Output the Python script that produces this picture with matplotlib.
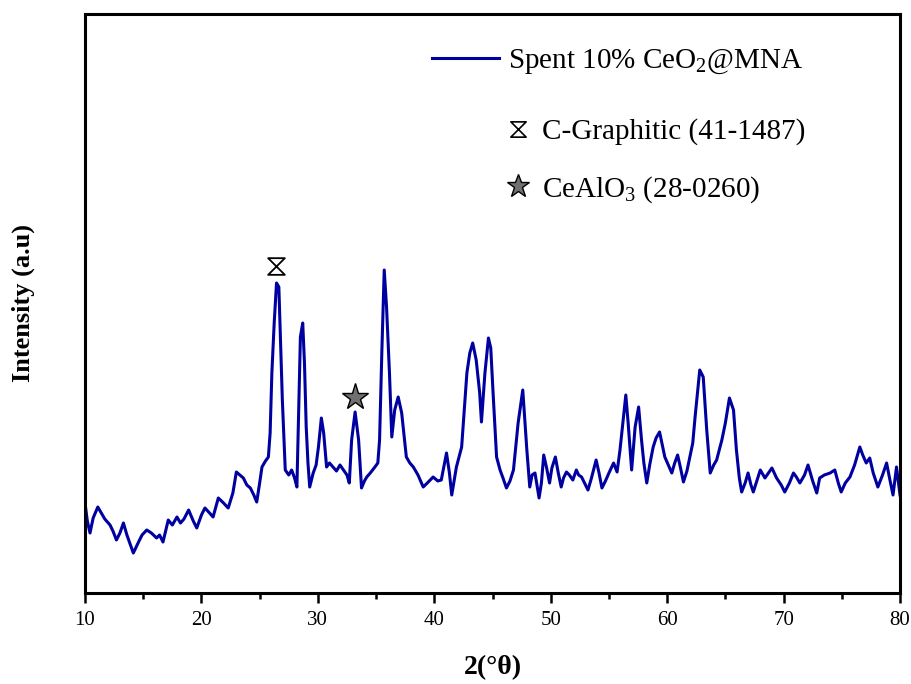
import numpy as np
import matplotlib.pyplot as plt
from matplotlib.path import Path
from matplotlib.lines import Line2D

plt.rcParams['font.family'] = ['Liberation Serif', 'DejaVu Serif']
plt.rcParams['mathtext.fontset'] = 'custom'
plt.rcParams['mathtext.rm'] = 'Liberation Serif'
plt.rcParams['mathtext.it'] = 'Liberation Serif:italic'
plt.rcParams['mathtext.bf'] = 'Liberation Serif:bold'

# XRD pattern (2theta, intensity a.u.)
two_theta = [10.0, 10.2, 10.43, 10.7, 11.1, 11.4, 11.7, 12.15, 12.4, 12.7, 13.0, 13.3, 13.6,
             13.9, 14.15, 14.6, 14.9, 15.3, 15.7, 16.15, 16.4, 16.7, 17.15, 17.5, 17.9, 18.2,
             18.5, 18.9, 19.3, 19.6, 20.0, 20.3, 20.7, 21.0, 21.45, 21.9, 22.3, 22.7, 23.0,
             23.3, 23.6, 23.9, 24.2, 24.5, 24.75, 25.0, 25.2, 25.5, 25.75, 25.9, 26.05, 26.25,
             26.45, 26.65, 26.8, 26.95, 27.2, 27.5, 27.75, 28.0, 28.2, 28.35, 28.5, 28.7, 28.85,
             29.0, 29.15, 29.3, 29.6, 29.85, 30.05, 30.3, 30.5, 30.75, 31.0, 31.3, 31.6, 31.9,
             32.2, 32.5, 32.7, 32.9, 33.2, 33.5, 33.75, 34.0, 34.2, 34.5, 34.9, 35.15, 35.3,
             35.5, 35.7, 35.9, 36.15, 36.35, 36.6, 36.9, 37.2, 37.6, 37.9, 38.2, 38.6, 39.05,
             39.4, 39.9, 40.3, 40.6, 41.05, 41.3, 41.5, 41.9, 42.35, 42.8, 43.05, 43.3, 43.6,
             43.9, 44.05, 44.35, 44.65, 44.85, 45.05, 45.35, 45.65, 45.9, 46.2, 46.5, 46.8,
             47.2, 47.6, 47.95, 48.2, 48.4, 48.65, 49.0, 49.2, 49.4, 49.65, 49.9, 50.1, 50.4,
             50.65, 50.9, 51.1, 51.35, 51.6, 51.9, 52.2, 52.4, 52.65, 52.9, 53.2, 53.5, 53.9,
             54.15, 54.4, 54.7, 55.0, 55.4, 55.7, 55.95, 56.2, 56.45, 56.65, 56.95, 57.25,
             57.55, 57.8, 58.0, 58.25, 58.5, 58.8, 59.05, 59.35, 59.8, 60.1, 60.4, 60.65,
             60.9, 61.15, 61.4, 61.7, 61.95, 62.2, 62.4, 62.6, 62.8, 63.1, 63.4, 63.7, 64.0,
             64.25, 64.7, 65.0, 65.35, 65.7, 65.95, 66.2, 66.4, 66.7, 66.95, 67.2, 67.4, 67.7,
             68.0, 68.4, 68.7, 69.0, 69.4, 69.8, 70.1, 70.5, 70.85, 71.1, 71.4, 71.8, 72.1,
             72.5, 72.85, 73.1, 73.5, 74.0, 74.4, 74.7, 74.95, 75.3, 75.7, 76.1, 76.55, 76.8,
             77.1, 77.4, 77.7, 78.1, 78.5, 78.85, 79.1, 79.4, 79.7, 80.0]
intensity = [90, 72, 60, 75, 86, 80, 74, 68, 62, 53, 60, 70, 58,
             48, 40, 51, 58, 63, 60, 55, 58, 51, 73, 68, 76, 70,
             74, 83, 72, 65, 78, 85, 80, 76, 95, 90, 85, 100, 121,
             118, 115, 108, 105, 98, 91, 110, 126, 132, 136, 160, 220, 270,
             310, 306, 250, 193, 123, 118, 123, 115, 106, 180, 256, 270, 230,
             166, 130, 106, 120, 128, 146, 175, 160, 126, 130, 126, 122, 128,
             123, 118, 110, 153, 181, 153, 105, 112, 116, 120, 126, 130, 153,
             243, 323, 286, 220, 156, 183, 196, 180, 136, 130, 126, 118, 106,
             110, 116, 112, 113, 140, 120, 98, 126, 146, 220, 240, 250, 233,
             200, 171, 220, 255, 245, 200, 136, 123, 115, 105, 112, 123,
             170, 203, 143, 106, 118, 120, 95, 110, 138, 125, 110, 125, 136,
             120, 106, 115, 121, 118, 113, 123, 118, 116, 110, 103, 115, 133,
             120, 105, 112, 120, 130, 121, 143, 170, 198, 170, 123, 166,
             186, 153, 130, 110, 128, 146, 155, 161, 136, 128, 120, 130,
             138, 125, 111, 122, 136, 150, 176, 200, 223, 216, 163, 120, 128,
             133, 153, 170, 195, 183, 143, 115, 101, 110, 120, 108, 101, 112,
             123, 115, 120, 125, 115, 108, 101, 110, 120, 116, 110, 118, 128,
             112, 100, 115, 118, 120, 123, 110, 101, 110, 116, 128, 146, 138,
             130, 135, 120, 106, 118, 130, 115, 98, 126, 98]

# reflection markers (position, height)
graphite_pos = [26.38]
graphite_h = [327]
cealo3_pos = [33.19]
cealo3_h = [196]

hourglass = Path([(-1, 1), (1, 1), (-1, -1), (1, -1), (-1, 1)],
                 [Path.MOVETO, Path.LINETO, Path.LINETO, Path.LINETO, Path.CLOSEPOLY])

fig = plt.figure(figsize=(9.11, 6.84), dpi=100)
ax = fig.add_axes([85 / 911, 1 - 593 / 684, 815 / 911, 579 / 684])

line, = ax.plot(two_theta, intensity, color='#0000a0', lw=2.2)
ax.plot(graphite_pos, graphite_h, ls='none', marker=hourglass, ms=12,
        mfc='white', mec='black', mew=1.3)
ax.plot(cealo3_pos, cealo3_h, ls='none', marker='*', ms=20,
        mfc='#707070', mec='black', mew=1.0)

ax.set_xlim(10, 80)
ax.set_ylim(0, 579)
ax.set_xticks(np.arange(10, 81, 10))
ax.set_xticks(np.arange(15, 80, 10), minor=True)
ax.set_yticks([])
ax.tick_params(axis='x', which='major', direction='out', length=7, width=1.8, labelsize=15, pad=6)
ax.tick_params(axis='x', which='minor', direction='out', length=4, width=1.8)
for s in ax.spines.values():
    s.set_linewidth(2.2)

ax.set_xlabel('2(°θ)', fontsize=20, fontweight='bold', labelpad=18)
ax.set_ylabel('Intensity (a.u)', fontsize=19, fontweight='bold', labelpad=36)

leg1 = ax.legend([line], ['Spent 10% CeO$_2$@MNA'], loc='center left',
                 bbox_to_anchor=(432 / 911, 1 - 62 / 684), bbox_transform=fig.transFigure,
                 frameon=False, fontsize=21, handlelength=2.3, handletextpad=0.3,
                 borderpad=0, borderaxespad=0)
ax.add_artist(leg1)

handles = [Line2D([], [], ls='none', marker=hourglass, ms=11, mfc='white', mec='black', mew=1.2),
           Line2D([], [], ls='none', marker='*', ms=17, mfc='#707070', mec='black', mew=1.0)]
labels = ['C-Graphitic (41-1487)', 'CeAlO$_3$ (28-0260)']
ax.legend(handles, labels, loc='center left',
          bbox_to_anchor=(503 / 911, 1 - 161.5 / 684), bbox_transform=fig.transFigure,
          frameon=False, fontsize=21, handlelength=1.0, handletextpad=0.35,
          labelspacing=1.0, borderpad=0, borderaxespad=0)

fig.savefig('out.png', dpi=100)
